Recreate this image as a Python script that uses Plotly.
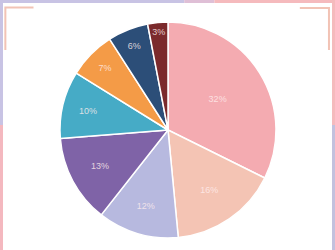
import plotly.graph_objects as go

labels = ["A", "B", "C", "D", "E", "F", "G", "H"]
values = [32, 16, 12, 13, 10, 7, 6, 3]
pct_text = ["32%", "16%", "12%", "13%", "10%", "7%", "6%", "3%"]
colors = ["#f4abb1", "#f4c4b4", "#b7b9df", "#7f63a7", "#46abc6", "#f49b47", "#2c4e78", "#7b2a2c"]

fig = go.Figure(go.Pie(
    labels=labels, values=values, text=pct_text,
    textinfo="text", textposition="inside", insidetextorientation="horizontal",
    textfont=dict(family="Liberation Sans Narrow, Arial Narrow, sans-serif", size=9, color="rgba(255,238,238,0.8)"),
    marker=dict(colors=colors, line=dict(color="white", width=1.5)),
    sort=False, direction="clockwise", rotation=0,
    domain=dict(x=[0.003, 1], y=[0.048, 0.912]),
    showlegend=False, hoverinfo="skip",
))

shapes = []
# top strip
shapes.append(dict(type="rect", xref="paper", yref="paper", x0=0, x1=0.55, y0=0.988, y1=1, fillcolor="#c8c3e4", line_width=0, layer="above"))
shapes.append(dict(type="rect", xref="paper", yref="paper", x0=0.55, x1=0.64, y0=0.988, y1=1, fillcolor="#dfbfd6", line_width=0, layer="above"))
shapes.append(dict(type="rect", xref="paper", yref="paper", x0=0.64, x1=1, y0=0.988, y1=1, fillcolor="#f5babd", line_width=0, layer="above"))
# left strip
shapes.append(dict(type="rect", xref="paper", yref="paper", x0=0, x1=0.009, y0=0.5, y1=1, fillcolor="#c8c3e4", line_width=0, layer="above"))
shapes.append(dict(type="rect", xref="paper", yref="paper", x0=0, x1=0.009, y0=0, y1=0.5, fillcolor="#f4b8bf", line_width=0, layer="above"))
# right strip
shapes.append(dict(type="rect", xref="paper", yref="paper", x0=0.991, x1=1, y0=0.5, y1=1, fillcolor="#f5babd", line_width=0, layer="above"))
shapes.append(dict(type="rect", xref="paper", yref="paper", x0=0.991, x1=1, y0=0, y1=0.5, fillcolor="#c3c1de", line_width=0, layer="above"))
# corner brackets
br = "#f2c3b5"
shapes.append(dict(type="path", xref="paper", yref="paper", path="M 0.1,0.97 L 0.016,0.97 L 0.016,0.80", line=dict(color=br, width=2), layer="above"))
shapes.append(dict(type="path", xref="paper", yref="paper", path="M 0.895,0.968 L 0.982,0.968 L 0.982,0.80", line=dict(color=br, width=2), layer="above"))

fig.update_layout(
    width=335, height=250, margin=dict(l=0, r=0, t=0, b=0),
    paper_bgcolor="white", plot_bgcolor="white", shapes=shapes,
)
fig.write_html("out.html")
